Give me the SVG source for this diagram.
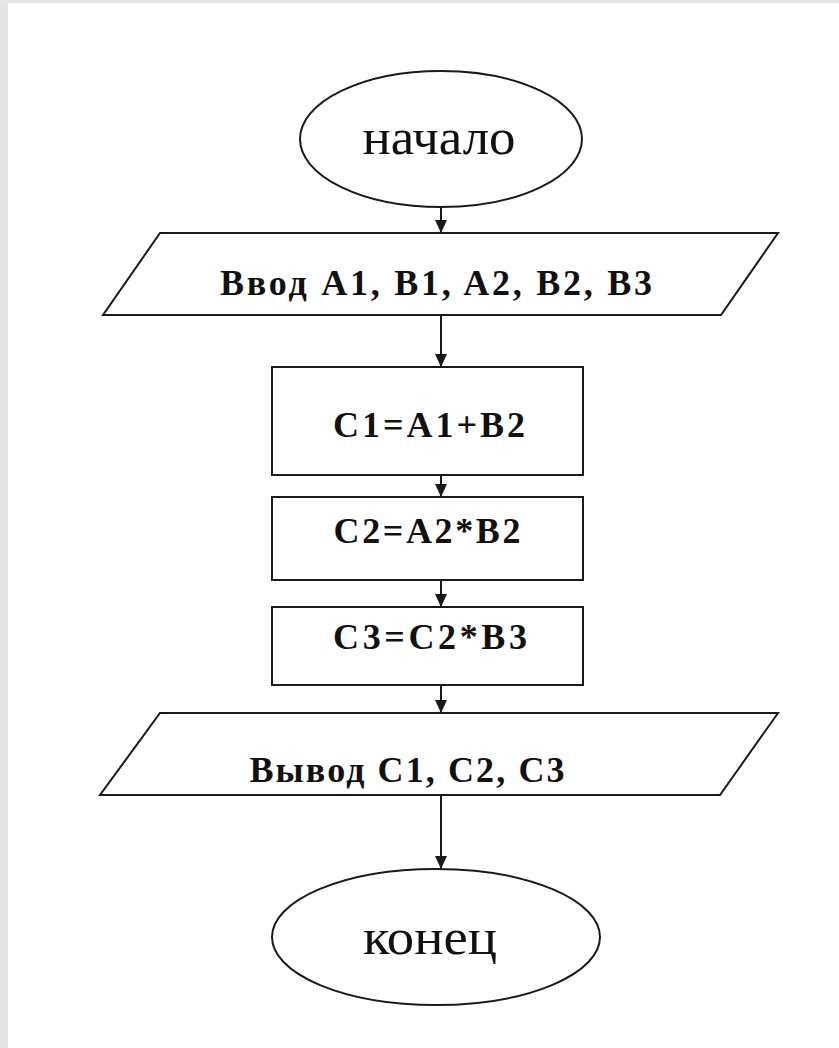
<svg xmlns="http://www.w3.org/2000/svg" width="839" height="1048" viewBox="0 0 839 1048">
<style>
.shape{fill:#fff;stroke:#1a1a1a;stroke-width:2}
.conn{stroke:#1a1a1a;stroke-width:2;fill:none}
.t{font-family:'Liberation Serif','DejaVu Serif',serif;fill:#111;text-anchor:middle}
.b{font-weight:bold;font-size:36px}
.r{font-size:50px}
</style>
<defs>
<marker id="ah" viewBox="0 0 13 12" refX="13" refY="6" markerWidth="13" markerHeight="12" markerUnits="userSpaceOnUse" orient="auto">
<path d="M0,0 L13,6 L0,12 Z" fill="#1a1a1a"/>
</marker>
</defs>
<rect width="839" height="1048" fill="#fff"/>
<rect x="0" y="0" width="8" height="1048" fill="#e4e4e4"/>
<rect x="0" y="0" width="839" height="3" fill="#e6e6e6"/>
<g id="connectors">
<line class="conn" x1="441" y1="207" x2="441" y2="233" marker-end="url(#ah)"/>
<line class="conn" x1="441" y1="315" x2="441" y2="367" marker-end="url(#ah)"/>
<line class="conn" x1="441" y1="475" x2="441" y2="497" marker-end="url(#ah)"/>
<line class="conn" x1="441" y1="580" x2="441" y2="607" marker-end="url(#ah)"/>
<line class="conn" x1="441" y1="685" x2="441" y2="713" marker-end="url(#ah)"/>
<line class="conn" x1="441" y1="795" x2="441" y2="869" marker-end="url(#ah)"/>
</g>
<g id="start">
<ellipse class="shape" cx="441" cy="139" rx="141" ry="68"/>
<text class="t r" x="439" y="154" font-family="Liberation Serif" textLength="153" lengthAdjust="spacingAndGlyphs">начало</text>
</g>
<g id="input">
<polygon class="shape" points="160,233 778,233 721,315 103,315"/>
<text class="t b" x="436" y="295" font-family="Liberation Serif" textLength="432" lengthAdjust="spacing">Ввод A1, B1, A2, B2, B3</text>
</g>
<g id="c1">
<rect class="shape" x="272" y="367" width="311" height="108"/>
<text class="t b" x="429" y="437" font-family="Liberation Serif" textLength="192" lengthAdjust="spacing">C1=A1+B2</text>
</g>
<g id="c2">
<rect class="shape" x="272" y="497" width="311" height="83"/>
<text class="t b" x="427" y="543" font-family="Liberation Serif" textLength="187" lengthAdjust="spacing">C2=A2*B2</text>
</g>
<g id="c3">
<rect class="shape" x="272" y="607" width="311" height="78"/>
<text class="t b" x="430" y="649" font-family="Liberation Serif" textLength="194" lengthAdjust="spacing">C3=C2*B3</text>
</g>
<g id="output">
<polygon class="shape" points="160,713 778,713 720,795 100,795"/>
<text class="t b" x="407" y="782" font-family="Liberation Serif" textLength="315" lengthAdjust="spacing">Вывод C1, C2, C3</text>
</g>
<g id="end">
<ellipse class="shape" cx="436" cy="937" rx="164" ry="68"/>
<text class="t r" x="430" y="954" font-size="54" font-family="Liberation Serif" textLength="134" lengthAdjust="spacingAndGlyphs">конец</text>
</g>
</svg>
